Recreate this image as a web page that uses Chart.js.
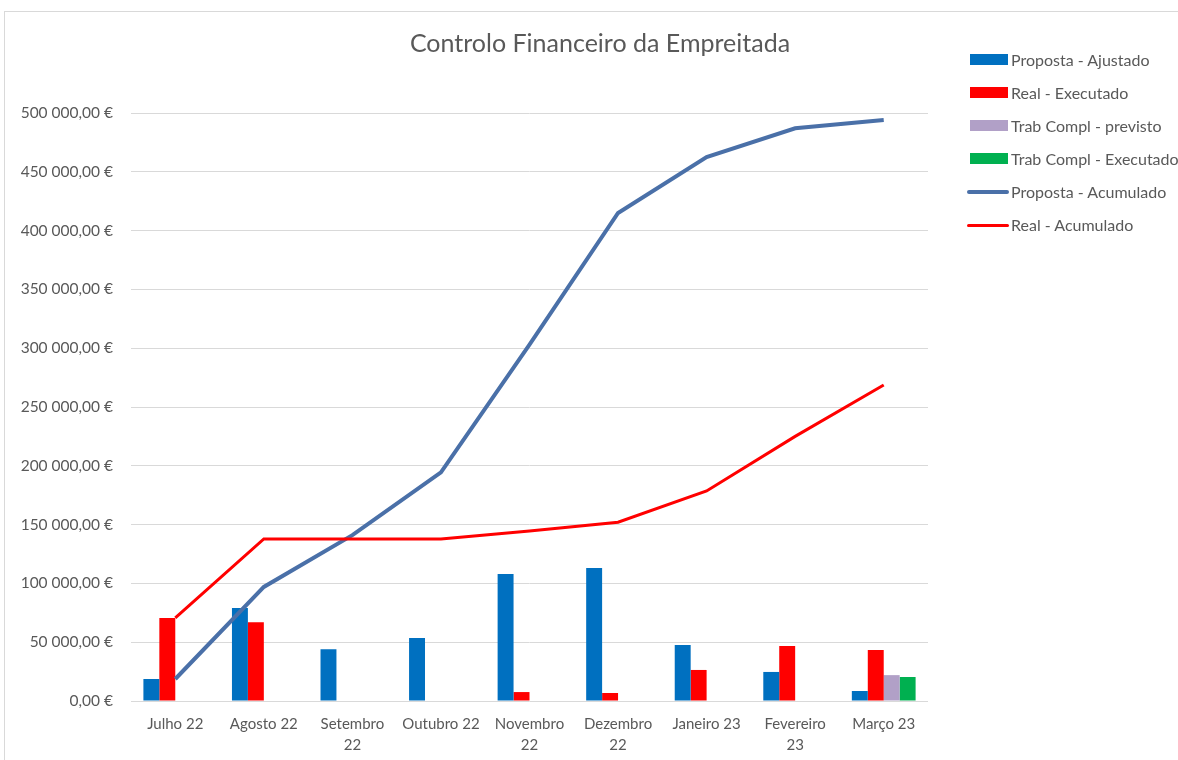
<!DOCTYPE html>
<html>
<head>
<meta charset="utf-8">
<script src="https://cdn.jsdelivr.net/npm/chart.js@4"></script>
<style>
  html, body { margin: 0; padding: 0; background: #fff; overflow: hidden; width: 1178px; height: 760px; }
  #frame { position: absolute; left: 4px; top: 11px; width: 1190px; height: 760px;
           border-left: 1px solid #d9d9d9; border-top: 1px solid #d9d9d9; }
  #chartCanvas { position: absolute; left: 0; top: 0; }
  #legend { position: absolute; left: 0; top: 0; font-family: Lato, sans-serif; font-size: 16px; color: #595959; }
  .item { position: absolute; white-space: nowrap; height: 20px; line-height: 20px; }
  .sw { position: absolute; }
  .lbl { position: absolute; left: 44px; top: 0; }
</style>
</head>
<body>
<div id="frame">
  <canvas id="chartCanvas" width="1190" height="748"></canvas>
</div>
<div id="legend"></div>
<script>

// categories / tick labels
var meses = ['Julho 22', 'Agosto 22', ['Setembro', '22'], 'Outubro 22', ['Novembro', '22'],
             ['Dezembro', '22'], 'Janeiro 23', ['Fevereiro', '23'], 'Março 23'];

// series values (euros)
var propostaAjustado  = [18700, 79000, 44000, 53600, 108000, 113000, 47600, 24700, 8500];
var realExecutado     = [70600, 67000, null, null, 7600, 6800, 26400, 46800, 43400];
var trabPrevisto      = [null, null, null, null, null, null, null, null, 22000];
var trabExecutado     = [null, null, null, null, null, null, null, null, 20400];
var propostaAcumulado = [18700, 97000, 141000, 194500, 303000, 415000, 462500, 487000, 494000];
var realAcumulado     = [70600, 137800, 137800, 137800, 144600, 152000, 178600, 225000, 268700];

var yMax = 500000;
var yStep = 50000;

function euro(v) {
    var s = String(Math.round(v)).replace(/\B(?=(\d{3})+(?!\d))/g, ' ');
    return s + ',00 €';
}

var txt = '#595959';

var datasets = [
    { type: 'bar', label: 'Proposta - Ajustado', data: propostaAjustado, backgroundColor: '#0070C0', order: 2 },
    { type: 'bar', label: 'Real - Executado', data: realExecutado, backgroundColor: '#FF0000', order: 2 },
    { type: 'bar', label: 'Trab Compl - previsto', data: trabPrevisto, backgroundColor: '#B1A0C7', order: 2 },
    { type: 'bar', label: 'Trab Compl - Executado', data: trabExecutado, backgroundColor: '#00B050', order: 2 },
    { type: 'line', label: 'Proposta - Acumulado', data: propostaAcumulado, borderColor: '#4A70A8',
      backgroundColor: '#4A70A8', borderWidth: 4, pointRadius: 0, tension: 0, order: 1 },
    { type: 'line', label: 'Real - Acumulado', data: realAcumulado, borderColor: '#FF0000',
      backgroundColor: '#FF0000', borderWidth: 3, pointRadius: 0, tension: 0, order: 0 }
];

var ctx = document.getElementById('chartCanvas').getContext('2d');
var chart = new Chart(ctx, {
    type: 'bar',
    data: {
        labels: meses,
        datasets: datasets
    },
    options: {
        responsive: false,
        animation: false,
        layout: { padding: 0 },
        datasets: {
            bar: { categoryPercentage: 0.72, barPercentage: 1.0 }
        },
        plugins: {
            legend: { display: false },
            tooltip: { enabled: false },
            title: {
                display: true,
                text: 'Controlo Financeiro da Empreitada',
                color: txt,
                font: { family: 'Lato', size: 25, weight: 'normal', lineHeight: 1.2 },
                padding: { top: 17, bottom: 54 }
            }
        },
        scales: {
            x: {
                grid: { display: false, drawTicks: false },
                border: { display: false },
                ticks: {
                    color: txt,
                    font: { family: 'Lato', size: 15, lineHeight: 1.45 },
                    padding: 12,
                    maxRotation: 0,
                    autoSkip: false
                },
                afterFit: function (scale) { scale.height = 59; }
            },
            y: {
                min: 0,
                max: yMax,
                grid: { color: '#d9d9d9', drawTicks: false },
                border: { display: false },
                ticks: {
                    stepSize: yStep,
                    color: txt,
                    font: { family: 'Lato', size: 15.5 },
                    padding: 18,
                    callback: function (v) { return euro(v); }
                },
                afterFit: function (scale) { scale.width = 126; }
            },
            // empty right axis that keeps room for the legend
            yRight: {
                position: 'right',
                min: 0,
                max: yMax,
                grid: { display: false, drawTicks: false },
                border: { display: false },
                ticks: { display: false },
                afterFit: function (scale) { scale.width = 267; }
            }
        }
    }
});

// legend on the right, built from the datasets
var legend = document.getElementById('legend');
datasets.forEach(function (ds, i) {
    var item = document.createElement('div');
    item.className = 'item';
    item.style.left = '967px';
    item.style.top = (50 + i * 33) + 'px';
    var sw = document.createElement('div');
    sw.className = 'sw';
    if (ds.type === 'bar') {
        sw.style.left = '3px'; sw.style.top = '4px';
        sw.style.width = '38px'; sw.style.height = '11px';
        sw.style.background = ds.backgroundColor;
    } else {
        var h = ds.borderWidth;
        sw.style.left = '0px'; sw.style.top = (10 - h / 2) + 'px';
        sw.style.width = '42px'; sw.style.height = h + 'px';
        sw.style.borderRadius = (h / 2) + 'px';
        sw.style.background = ds.borderColor;
    }
    var lb = document.createElement('span');
    lb.className = 'lbl';
    lb.textContent = ds.label;
    item.appendChild(sw);
    item.appendChild(lb);
    legend.appendChild(item);
});

</script>
</body>
</html>
